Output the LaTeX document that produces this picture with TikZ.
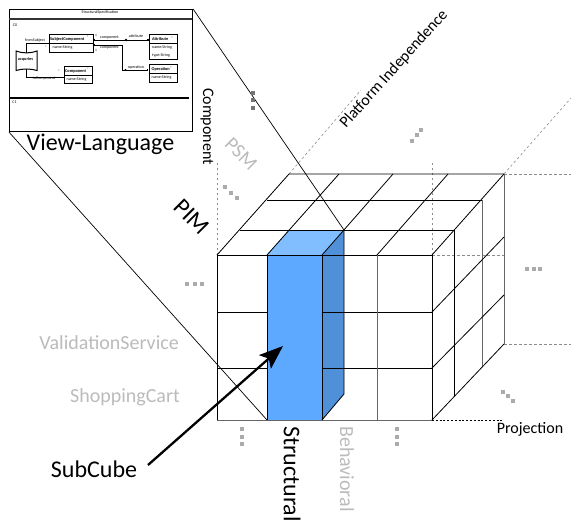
\documentclass[tikz,border=0pt]{standalone}
\usepackage{fontspec}
\setmainfont{Carlito}
\usetikzlibrary{arrows.meta}
\definecolor{blueF}{HTML}{5CA9FF}
\definecolor{blueS}{HTML}{4F90D9}
\definecolor{blueT}{HTML}{80BEFF}
\definecolor{lbl}{HTML}{BBBBBB}
\definecolor{dot}{HTML}{ABABAB}
\tikzset{
 x=1pt,y=-1pt,
 grid/.style={draw=black,line width=0.8pt},
 grey/.style={draw=black!60,line width=0.9pt},
 guide/.style={draw=black!45,dash pattern=on 2.5pt off 2.5pt,line width=0.6pt},
 lab/.style={inner sep=0pt,font=\fontsize{#1}{#1}\selectfont},
 lab/.default=14,
 dotm/.style={fill=dot,draw=none,minimum size=4pt,inner sep=0pt},
 umlh/.style={inner sep=0pt,font=\fontsize{4.3}{5}\selectfont\bfseries},
 umlt/.style={inner sep=0pt,font=\fontsize{4}{5}\selectfont},
 umls/.style={inner sep=0pt,font=\fontsize{3.5}{4}\selectfont},
 umlb/.style={draw=black,line width=0.9pt,inner sep=0pt,anchor=north west},
 uline/.style={draw=black,line width=0.9pt},
 zoomline/.style={draw=black,line width=0.7pt},
}
\begin{document}
\begin{tikzpicture}
\useasboundingbox (0,0) rectangle (571,525);
% guides
\coordinate (gA) at (217,255); \coordinate (gB) at (217,162);
\coordinate (gC) at (432,255); \coordinate (gD) at (432,162);
\coordinate (gE) at (289,174); \coordinate (gF) at (361,90);
\coordinate (gG) at (504,174); \coordinate (gH) at (571,98);
\coordinate (gI) at (571,174); \coordinate (gJ) at (504,255);
\coordinate (gK) at (504,344); \coordinate (gL) at (571,344);
\coordinate (gM) at (432,420); \coordinate (gN) at (504,420);
\draw[guide] (gA)--(gB); \draw[guide] (gC)--(gD); \draw[guide] (gE)--(gF);
\draw[guide] (gG)--(gH); \draw[guide] (gG)--(gI); \draw[guide] (gC)--(gJ);
\draw[guide] (gK)--(gL);
\draw[black,dash pattern=on 2pt off 1.8pt,line width=0.8pt] (gM)--(gN);
% blue
\fill[blueT] (267,255)--(289,230)--(344,230)--(322,255)--cycle;
\fill[blueS] (322,255)--(344,230)--(344,394)--(322,420)--cycle;
\fill[blueF] (267,255) rectangle (322,420);
% top face
\draw[grid] (217,255)--(289,174)--(504,174);
\draw[grid] (267,200)--(482,200);
\draw[grid] (240,230)--(454,230);
\draw[grid] (267,255)--(339,174);
\draw[grid] (322,255)--(393,174);
\draw[grid] (377,255)--(448,174);
\draw[grid] (432,255)--(504,174);
% right face
\draw[grey] (504,174)--(504,344);
\draw[grey] (482,200)--(482,367);
\draw[grid] (454,230)--(454,396);
\draw[grid] (432,312)--(504,237);
\draw[grid] (432,368)--(504,295);
\draw[grid] (432,420)--(504,344);
% front
\draw[grid] (217,255)--(432,255);
\draw[grid] (217,312)--(267,312);
\draw[grid] (217,368)--(267,368);
\draw[grid] (322,312)--(432,312);
\draw[grid] (322,368)--(432,368);
\draw[grey] (217,420)--(432,420);
\draw[grid] (217,255)--(217,420);
\draw[grid] (267,255)--(267,420);
\draw[grid] (322,255)--(322,420);
\draw[grey] (377,255)--(377,420);
\draw[grid] (432,255)--(432,420);
\draw[grid] (344,230)--(344,394)--(322,420);
% view box
\node[draw=black,line width=1.1pt,minimum width=183pt,minimum height=122pt,inner sep=0pt,anchor=north west] (vb) at (9,9) {};
\draw[zoomline] (vb.north east)--(344,230);
\draw[zoomline] (vb.south west)--(267,420);
\coordinate (t1) at (9,19); \coordinate (t2) at (192,19);
\coordinate (t3) at (9,98); \coordinate (t4) at (189,98);
\draw[line width=1.1pt,black!80] (t1)--(t2); \draw[line width=1.1pt] (t3)--(t4);
\node[umlt] (vt) at (100,12.5) {StructuralSpecification};
\node[umlt] (c0) at (15,25.5) {C0};
\node[umlt] (c1) at (14.5,102.5) {C1};
% uml classes
\node[umlb,minimum width=44pt,minimum height=9pt] (sc) at (48.5,34) {};
\node[umlb,minimum width=44pt,minimum height=9pt] (scb) at (48.5,43) {};
\node[umlh,anchor=west] (sct) at ([xshift=1.5pt]sc.west) {SubjectComponent};
\node[umlt,anchor=west] (scn) at ([xshift=4pt]scb.west) {name:String};
\node[umlb,minimum width=28.5pt,minimum height=9pt] (co) at (63.5,66) {};
\node[umlb,minimum width=28.5pt,minimum height=8pt] (cob) at (63.5,75) {};
\node[umlh,anchor=west] (cot) at ([xshift=1.5pt]co.west) {Component};
\node[umlt,anchor=west] (con) at ([xshift=3pt]cob.west) {name:String};
\node[umlb,minimum width=28pt,minimum height=9pt] (at) at (149,34) {};
\node[umlb,minimum width=28pt,minimum height=16pt] (atb) at (149,43) {};
\node[umlh,anchor=west] (att) at ([xshift=3pt]at.west) {Attribute};
\node[umlt,anchor=west] (atn) at ([xshift=3pt,yshift=3.8pt]atb.west) {name:String};
\node[umlt,anchor=west] (aty) at ([xshift=3pt,yshift=-3.8pt]atb.west) {type:String};
\node[umlb,minimum width=28.5pt,minimum height=9pt] (op) at (148.5,64) {};
\node[umlb,minimum width=28.5pt,minimum height=9pt] (opb) at (148.5,73) {};
\node[umlh,anchor=west] (opt) at ([xshift=3pt]op.west) {Operation};
\node[umlt,anchor=west] (opn) at ([xshift=3pt]opb.west) {name:String};
% association
\coordinate (a1) at (16,51); \coordinate (a2) at (37,51);
\coordinate (a3) at (37,70.5); \coordinate (a4) at (16,70.5);
\draw[uline,line width=1pt] (a1) .. controls (22,53.5) and (31,53.5) .. (a2) -- (a3)
  .. controls (31,68.5) and (22,68.5) .. (a4) -- cycle;
\node[umlh] (act) at (25.5,59.5) {acquries};
\coordinate (r1a) at (26.5,52.5); \coordinate (r1b) at (26.5,43);
\coordinate (r2a) at (26.5,69); \coordinate (r2b) at (26.5,77);
\draw[uline] (r1a)--(r1b)--(scb.north west);
\draw[uline] (r2a)--(r2b)--(cob.north west |- r2b);
\node[umlt] (l1) at (35,40.5) {fromSubject};
\node[umlt] (l2) at (44,79) {toComponent};
% relations
\coordinate (s1) at (92.7,40); \coordinate (e1) at (148.8,40);
\coordinate (s2) at (92.7,45); \coordinate (m2a) at (122,45);
\coordinate (m2b) at (122,70); \coordinate (e2) at (148.2,70);
\draw[uline] (s1)--(e1);
\draw[uline] (s2)--(m2a)--(m2b)--(e2);
\fill (126,40) circle (1.3pt); \fill (125.5,70) circle (1.2pt);
\fill (e1) ++(-1.5,-1) rectangle ++(1.5,2); \fill (e2) ++(-1.5,-1) rectangle ++(1.5,2);
\fill (s1) rectangle ++(2,-1.2); \fill (s1) rectangle ++(2,1.2);
\fill (s2) ++(0,-1) rectangle ++(2,2);
\node[umlt] (l3) at (109.5,38) {component};
\node[umlt] (l4) at (109.5,47.7) {component};
\node[umlt] (l5) at (136,36) {attribute};
\node[umlt] (l6) at (136,67.3) {operation};
% multiplicities
\node[umls] (m1) at (96,35) {1};
\node[umls] (m2) at (96,50) {1};
\node[umls] (m3) at (46,47.7) {*};
\node[umls] (m4) at (59,71) {*};
\node[umls] (m5) at (172,38) {*};
\node[umls] (m6) at (171,68) {*};
\node[umls] (m7) at (87.5,37.5) {*};
\node[umls] (m8) at (88,69.5) {*};
% labels
\node[lab=24] (vl) at (100.5,144) {View-Language};
\node[lab=16,rotate=-90] (comp) at (207,126.5) {Component};
\node[lab=16,rotate=48] (pi) at (394,69) {Platform Independence};
\node[lab=20,rotate=-45,lbl] (psm) at (241,154) {PSM};
\node[lab=24,rotate=-45] (pim) at (192,217) {PIM};
\node[lab=20,lbl,anchor=east] (vs) at (179,343) {ValidationService};
\node[lab=20,lbl,anchor=east] (sh) at (180,397) {ShoppingCart};
\node[lab=24] (sub) at (94,469) {SubCube};
\node[lab=24,rotate=-90,anchor=west] (st) at (292,426) {Structural};
\node[lab=20,rotate=-90,anchor=west,lbl] (be) at (347,426) {Behavioral};
\node[lab=16] (pr) at (530,429) {Projection};
% arrow
\coordinate (aS) at (148,465); \coordinate (aE) at (283,346);
\draw[line width=2.3pt,-{Stealth[length=24pt,width=18pt,inset=5pt]}] (aS)--(aE);
% dots
\foreach \n/\x/\y in {a/253/93,b/253/100,c/253/108}{\node[dotm,fill=black!55] (d\n) at (\x,\y){};}
\foreach \n/\x/\y in {d/225/187,e/231/193,f/237/198,g/421/130,h/417/135,i/412/141,j/503/392,k/508/396,l/513/401,m/242/429,n/242/437,o/242/444,p/397/429,q/397/437,r/397/444,s/187/284,t/195/284,u/202/284,v/527/269,w/534/269,x/540/269}{\node[dotm] (d\n) at (\x,\y){};}
\end{tikzpicture}
\end{document}
